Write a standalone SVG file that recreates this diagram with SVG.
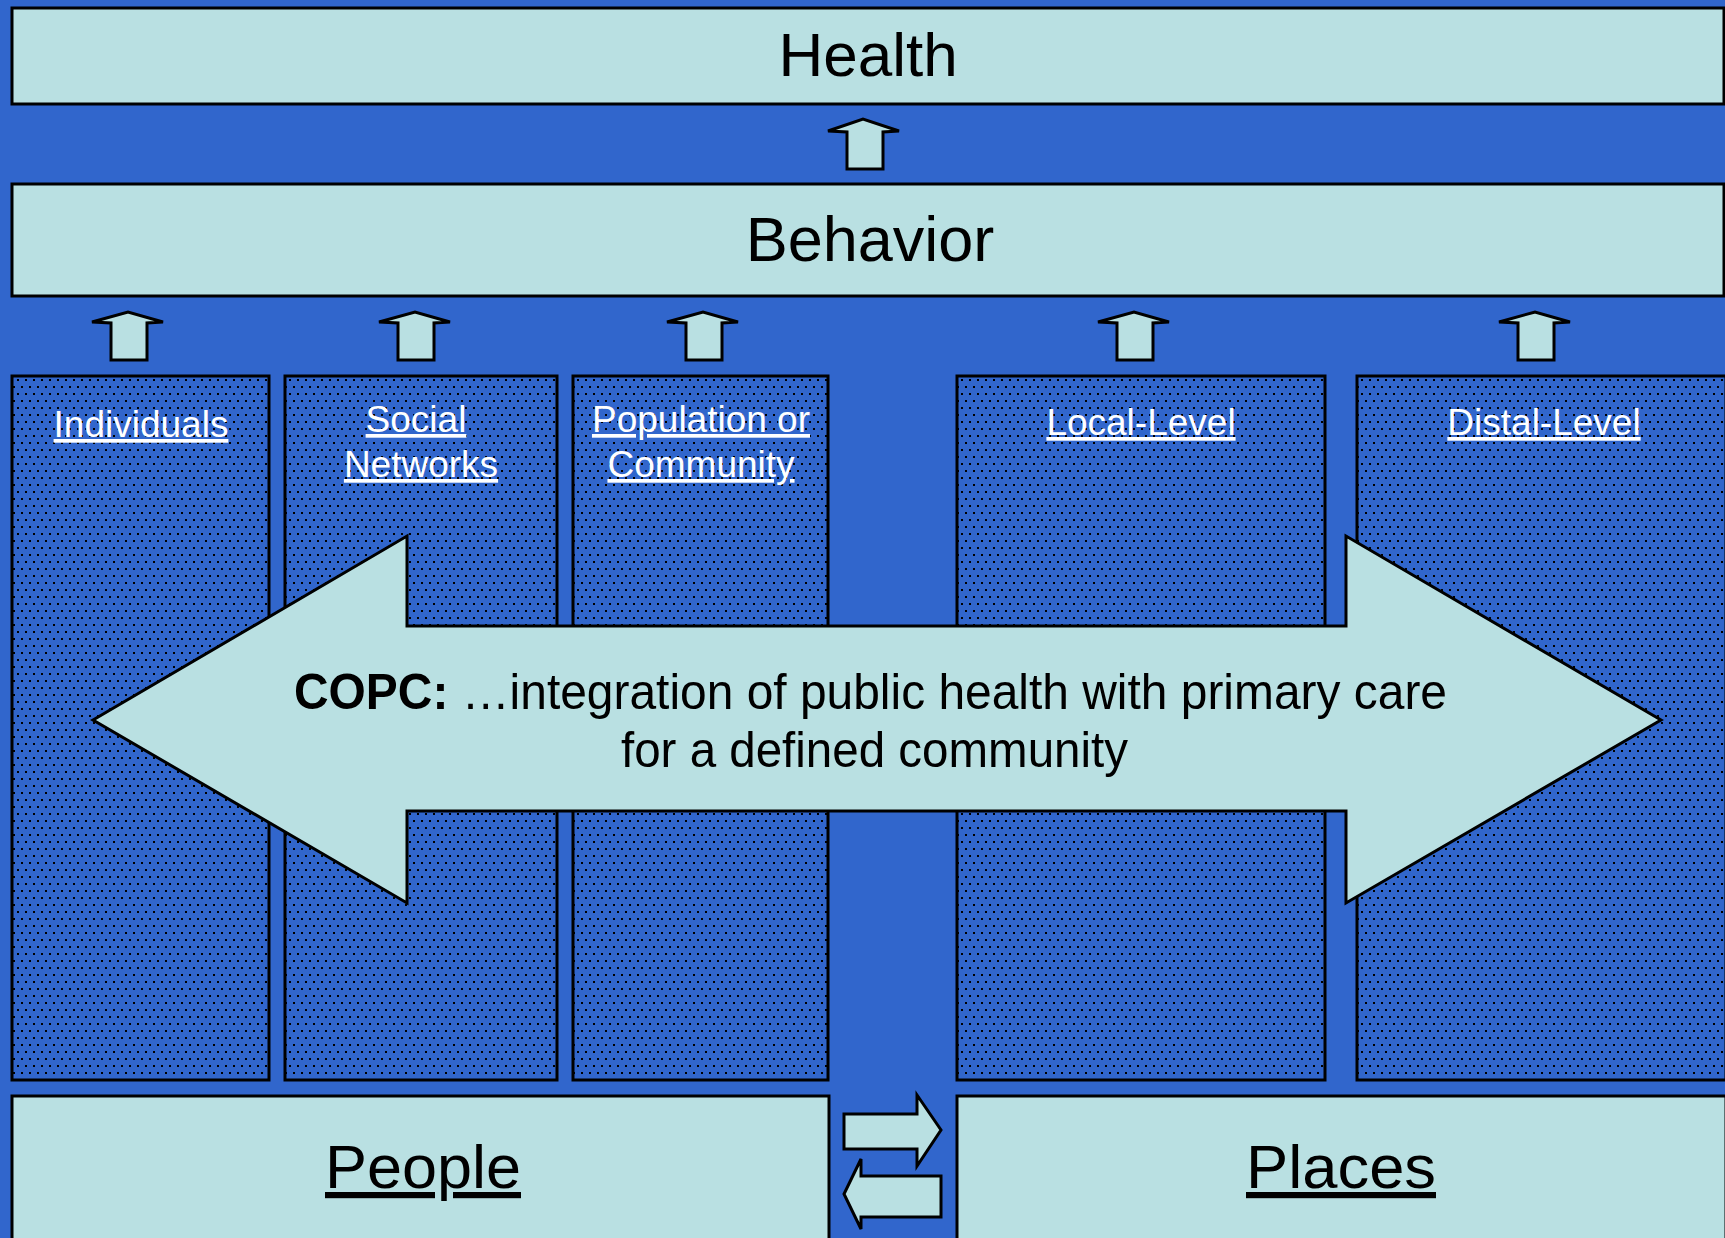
<svg xmlns="http://www.w3.org/2000/svg" width="1725" height="1238" viewBox="0 0 1725 1238">
<defs>
<pattern id="dots" x="0" y="0" width="8" height="14" patternUnits="userSpaceOnUse">
<rect width="8" height="14" fill="#3166CC"/>
<rect x="1" y="1" width="2" height="2" fill="#000"/>
<rect x="5" y="8" width="2" height="2" fill="#000"/>
</pattern>
<style>
.box{fill:#B9E0E2;stroke:#000;stroke-width:3}
.col{fill:url(#dots);stroke:#000;stroke-width:3}
.arr{fill:#B9E0E2;stroke:#000;stroke-width:3;stroke-linejoin:miter}
.big{font-family:"Liberation Sans",Arial,sans-serif;fill:#000;text-anchor:middle}
.lbl{font-family:"Liberation Sans",Arial,sans-serif;fill:#fff;font-size:37px;text-anchor:middle;text-decoration:underline}
.copc{font-family:"Liberation Sans",Arial,sans-serif;fill:#000;font-size:50px}
.pp{font-family:"Liberation Sans",Arial,sans-serif;fill:#000;font-size:62px;text-anchor:middle;text-decoration:underline}
</style>
</defs>
<rect x="0" y="0" width="1725" height="1238" fill="#3166CC"/>

<g id="health">
<rect class="box" x="12" y="8" width="1712" height="96"/>
<text class="big" x="868" y="76" font-size="62">Health</text>
</g>

<g id="behavior">
<rect class="box" x="12" y="184" width="1712" height="112"/>
<text class="big" x="870" y="261" font-size="63">Behavior</text>
</g>

<g id="individuals">
<rect class="col" x="12" y="376" width="257" height="704"/>
<text class="lbl" x="141" y="437">Individuals</text>
</g>

<g id="social-networks">
<rect class="col" x="285" y="376" width="272" height="704"/>
<text class="lbl" x="416" y="432">Social</text>
<text class="lbl" x="421" y="477">Networks</text>
</g>

<g id="population">
<rect class="col" x="573" y="376" width="255" height="704"/>
<text class="lbl" x="701" y="432">Population or</text>
<text class="lbl" x="701" y="477">Community</text>
</g>

<g id="local-level">
<rect class="col" x="957" y="376" width="368" height="704"/>
<text class="lbl" x="1141" y="435">Local-Level</text>
</g>

<g id="distal-level">
<rect class="col" x="1357" y="376" width="369" height="704"/>
<text class="lbl" x="1544" y="435">Distal-Level</text>
</g>

<g id="people">
<rect class="box" x="12" y="1096" width="817" height="150"/>
<text class="pp" x="423" y="1188" textLength="196" lengthAdjust="spacingAndGlyphs">People</text>
</g>

<g id="places">
<rect class="box" x="957" y="1096" width="769" height="150"/>
<text class="pp" x="1341" y="1188" textLength="190" lengthAdjust="spacingAndGlyphs">Places</text>
</g>

<g id="connectors">
<polygon class="arr" points="847,169 847,132 828,131 863,119 899,131 883,132 883,169"/>
<polygon class="arr" points="111,360 111,323 92,322 128,312 163,322 147,323 147,360"/>
<polygon class="arr" points="398,360 398,323 379,322 415,312 450,322 434,323 434,360"/>
<polygon class="arr" points="686,360 686,323 667,322 703,312 738,322 722,323 722,360"/>
<polygon class="arr" points="1117,360 1117,323 1098,322 1134,312 1169,322 1153,323 1153,360"/>
<polygon class="arr" points="1518,360 1518,323 1499,322 1535,312 1570,322 1554,323 1554,360"/>
<polygon class="arr" points="844,1114 917,1114 917,1095 941,1130 917,1166 917,1149 844,1149"/>
<polygon class="arr" points="941,1176 861,1176 861,1159 844,1194 861,1229 861,1217 941,1217"/>
</g>

<g id="copc">
<polygon class="arr" points="93,720 407,536 407,626 1346,626 1346,536 1661,720 1346,903 1346,811 407,811 407,903"/>
<text class="copc" x="294" y="709" textLength="1153" lengthAdjust="spacingAndGlyphs"><tspan font-weight="bold">COPC:</tspan> …integration of public health with primary care</text>
<text class="copc" x="621" y="767" textLength="507" lengthAdjust="spacingAndGlyphs">for a defined community</text>
</g>
</svg>
